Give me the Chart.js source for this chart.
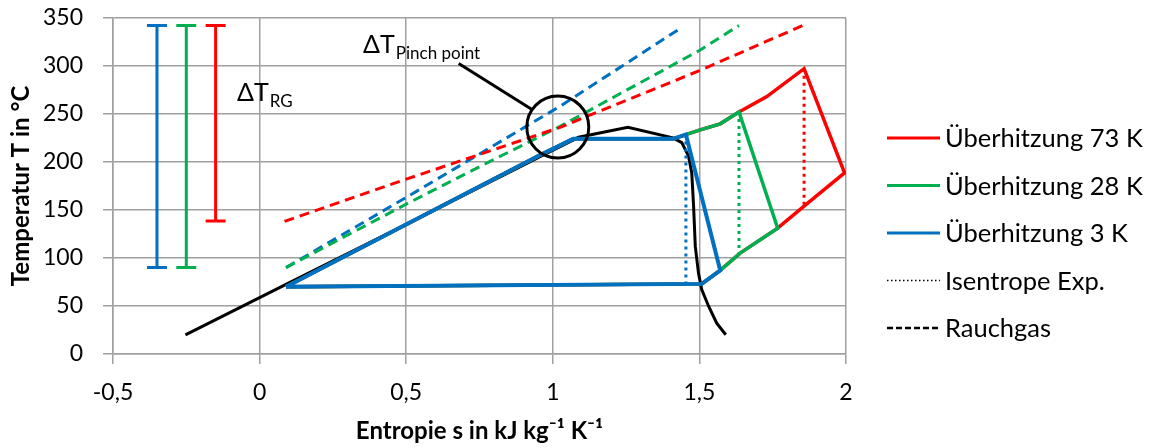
<!DOCTYPE html>
<html>
<head>
<meta charset="utf-8">
<script src="https://cdn.jsdelivr.net/npm/chart.js@4.4.1/dist/chart.umd.min.js"></script>
<style>
  html, body { margin: 0; padding: 0; background: #fff; }
  #wrap { width: 1154px; height: 448px; }
</style>
</head>
<body>
<div id="wrap"><canvas id="tsChart"></canvas></div>
<script>
// Saettigungslinie (schwarz)
const satS = [-0.253, 0.09, 0.5, 0.96, 1.088, 1.256, 1.41, 1.44, 1.463, 1.474, 1.48, 1.486, 1.497, 1.508, 1.531, 1.559, 1.59];
const satT = [20, 72.5, 135, 206, 225.6, 236, 225, 220, 206, 188.5, 155, 112, 84, 67, 50, 32, 20];

// Kreisprozesse
const blueS = [0.09, 0.96, 1.03, 1.07, 1.41, 1.454, 1.571, 1.508, 0.09];
const blueT = [70, 207.6, 218, 224, 224, 228.4, 87, 73, 70];
const greenS = [0.09, 0.96, 1.03, 1.07, 1.41, 1.5, 1.571, 1.635, 1.767, 1.639, 1.571, 1.508, 0.09];
const greenT = [70, 207.6, 218, 224, 224, 233, 239.6, 252, 131, 105, 87, 73, 70];
const redS = [0.09, 0.96, 1.03, 1.07, 1.41, 1.5, 1.571, 1.635, 1.73, 1.857, 1.995, 1.889, 1.857, 1.767, 1.639, 1.571, 1.508, 0.09];
const redT = [70, 207.6, 218, 224, 224, 233, 239.6, 252, 268, 297, 188.5, 162, 154, 131, 105, 87, 73, 70];

// Isentrope Expansion
const isoBlueS = [1.454, 1.454], isoBlueT = [228.4, 73];
const isoGreenS = [1.635, 1.635], isoGreenT = [252, 105];
const isoRedS = [1.857, 1.857], isoRedT = [297, 154];

// Rauchgas
const gasBlueS = [0.09, 0.5, 1.025, 1.44], gasBlueT = [90, 163, 258, 340];
const gasGreenS = [0.09, 0.5, 0.75, 1.025, 1.5, 1.635], gasGreenT = [90, 156, 195, 237, 316, 342];
const gasRedS = [0.085, 0.5, 1.025, 1.5, 1.86], gasRedT = [138, 182, 236, 295, 343];

// Delta T Rauchgas (Balken links)
const dtS = [-0.35, -0.25, -0.15];
const dtTop = [342, 342, 342];
const dtLow = [90, 90, 138.5];

// Pinch point Markierung
const pinchS = [1.017], pinchT = [236.3];
const pointerS = [0.679, 0.929], pointerT = [302.4, 254.5];

const xTicks = [-0.5, 0, 0.5, 1, 1.5, 2];
const yTicks = [0, 50, 100, 150, 200, 250, 300, 350];

const RED = '#ff0000', GREEN = '#00b050', BLUE = '#0070c0', BLACK = '#000000';
const FONT = "Lato, 'Open Sans', sans-serif";

const pts = (xs, ys) => xs.map((x, i) => ({ x: x, y: ys[i] }));

function line(data, color, width, dash, order) {
  return {
    data: data,
    showLine: true,
    borderColor: color,
    backgroundColor: color,
    borderWidth: width,
    borderDash: dash || [],
    pointRadius: 0,
    tension: 0,
    order: order
  };
}

const DOT = [3, 4], DASH = [10, 6];
const datasets = [
  line(pts(satS, satT), BLACK, 3, null, 5),
  line(pts(redS, redT), RED, 3.5, null, 4),
  line(pts(greenS, greenT), GREEN, 3.5, null, 3),
  line(pts(blueS, blueT), BLUE, 4, null, 2),
  line(pts(isoRedS, isoRedT), RED, 3, DOT, 2),
  line(pts(isoGreenS, isoGreenT), GREEN, 3, DOT, 2),
  line(pts(isoBlueS, isoBlueT), BLUE, 3, DOT, 2),
  line(pts(gasRedS, gasRedT), RED, 3, DASH, 1),
  line(pts(gasGreenS, gasGreenT), GREEN, 3, DASH, 1),
  line(pts(gasBlueS, gasBlueT), BLUE, 3, DASH, 1),
  line(pts(pointerS, pointerT), BLACK, 3, null, 0)
];

[BLUE, GREEN, RED].forEach((c, i) => {
  const ds = line(pts([dtS[i], dtS[i]], [dtTop[i], dtLow[i]]), c, 3, null, 1);
  ds.pointStyle = 'line';
  ds.pointRadius = 10;
  ds.pointBorderWidth = 3;
  datasets.push(ds);
});

datasets.push({
  data: pts(pinchS, pinchT),
  showLine: false,
  pointStyle: 'circle',
  pointRadius: 31,
  pointBorderWidth: 3,
  borderColor: BLACK,
  backgroundColor: 'rgba(0,0,0,0)',
  order: 0
});

const legendItems = [
  { text: 'Überhitzung 73 K', color: RED, dash: [] },
  { text: 'Überhitzung 28 K', color: GREEN, dash: [] },
  { text: 'Überhitzung 3 K', color: BLUE, dash: [] },
  { text: 'Isentrope Exp.', color: BLACK, dash: [1.5, 2.5], width: 1.5 },
  { text: 'Rauchgas', color: BLACK, dash: [6, 3], width: 2.5 }
];

const overlay = {
  id: 'overlay',
  afterDraw(chart) {
    const ctx = chart.ctx;
    const xs = chart.scales.x, ys = chart.scales.y;
    ctx.save();
    ctx.fillStyle = '#000';
    ctx.textBaseline = 'alphabetic';
    ctx.textAlign = 'left';

    // Delta T labels
    const sub = (main, subText, sx, sy) => {
      const px = xs.getPixelForValue(sx), py = ys.getPixelForValue(sy);
      ctx.font = '25px ' + FONT;
      ctx.fillText(main, px, py);
      const w = ctx.measureText(main).width;
      ctx.font = '17px ' + FONT;
      ctx.fillText(subText, px + w + 1, py + 6);
    };
    sub('ΔT', 'Pinch point', 0.353, 313.5);
    sub('ΔT', 'RG', -0.077, 263.5);

    // Legend
    let y = 138;
    legendItems.forEach(it => {
      ctx.beginPath();
      ctx.strokeStyle = it.color;
      ctx.lineWidth = it.width || 3;
      ctx.setLineDash(it.dash);
      ctx.moveTo(887, y);
      ctx.lineTo(940, y);
      ctx.stroke();
      ctx.setLineDash([]);
      ctx.font = '25.5px ' + FONT;
      ctx.textBaseline = 'middle';
      ctx.fillText(it.text, 945, y + 1);
      y += 47.5;
    });
    ctx.restore();
  }
};

const GRID = '#a0a0a0';

new Chart(document.getElementById('tsChart'), {
  type: 'scatter',
  data: { datasets: datasets },
  options: {
    responsive: true,
    maintainAspectRatio: false,
    animation: false,
    events: [],
    layout: { autoPadding: false, padding: { top: 0, right: 308, bottom: 0, left: 0 } },
    plugins: { legend: { display: false }, tooltip: { enabled: false } },
    scales: {
      x: {
        type: 'linear',
        min: xTicks[0],
        max: xTicks[xTicks.length - 1],
        afterBuildTicks: s => { s.ticks = xTicks.map(v => ({ value: v })); },
        afterFit: s => { s.height = 94; },
        grid: { color: GRID, lineWidth: 1.5, tickLength: 10, drawTicks: true },
        border: { color: GRID, width: 1.5 },
        ticks: {
          color: '#000',
          font: { family: FONT, size: 23 },
          padding: 15,
          maxRotation: 0,
          callback: v => String(Math.round(v * 10) / 10).replace('.', ',')
        },
        title: {
          display: true,
          text: 'Entropie s in kJ kg⁻¹ K⁻¹',
          color: '#000',
          font: { family: FONT, size: 24, weight: 'bold' },
          padding: { top: 0, bottom: 2 }
        }
      },
      y: {
        type: 'linear',
        min: yTicks[0],
        max: yTicks[yTicks.length - 1],
        afterBuildTicks: s => { s.ticks = yTicks.map(v => ({ value: v })); },
        afterFit: s => { s.width = 113; },
        // long tick slot, only the inner 10px drawn
        grid: { color: GRID, lineWidth: 1.5, tickLength: 26, drawTicks: true, tickBorderDash: [0, 16, 10, 0] },
        border: { color: GRID, width: 1.5 },
        ticks: {
          color: '#000',
          font: { family: FONT, size: 23 },
          padding: 4
        },
        title: {
          display: true,
          text: 'Temperatur T in °C',
          color: '#000',
          font: { family: FONT, size: 24, weight: 'bold' },
          padding: { top: 7, bottom: 0 }
        }
      }
    }
  },
  plugins: [overlay]
});
</script>
</body>
</html>
